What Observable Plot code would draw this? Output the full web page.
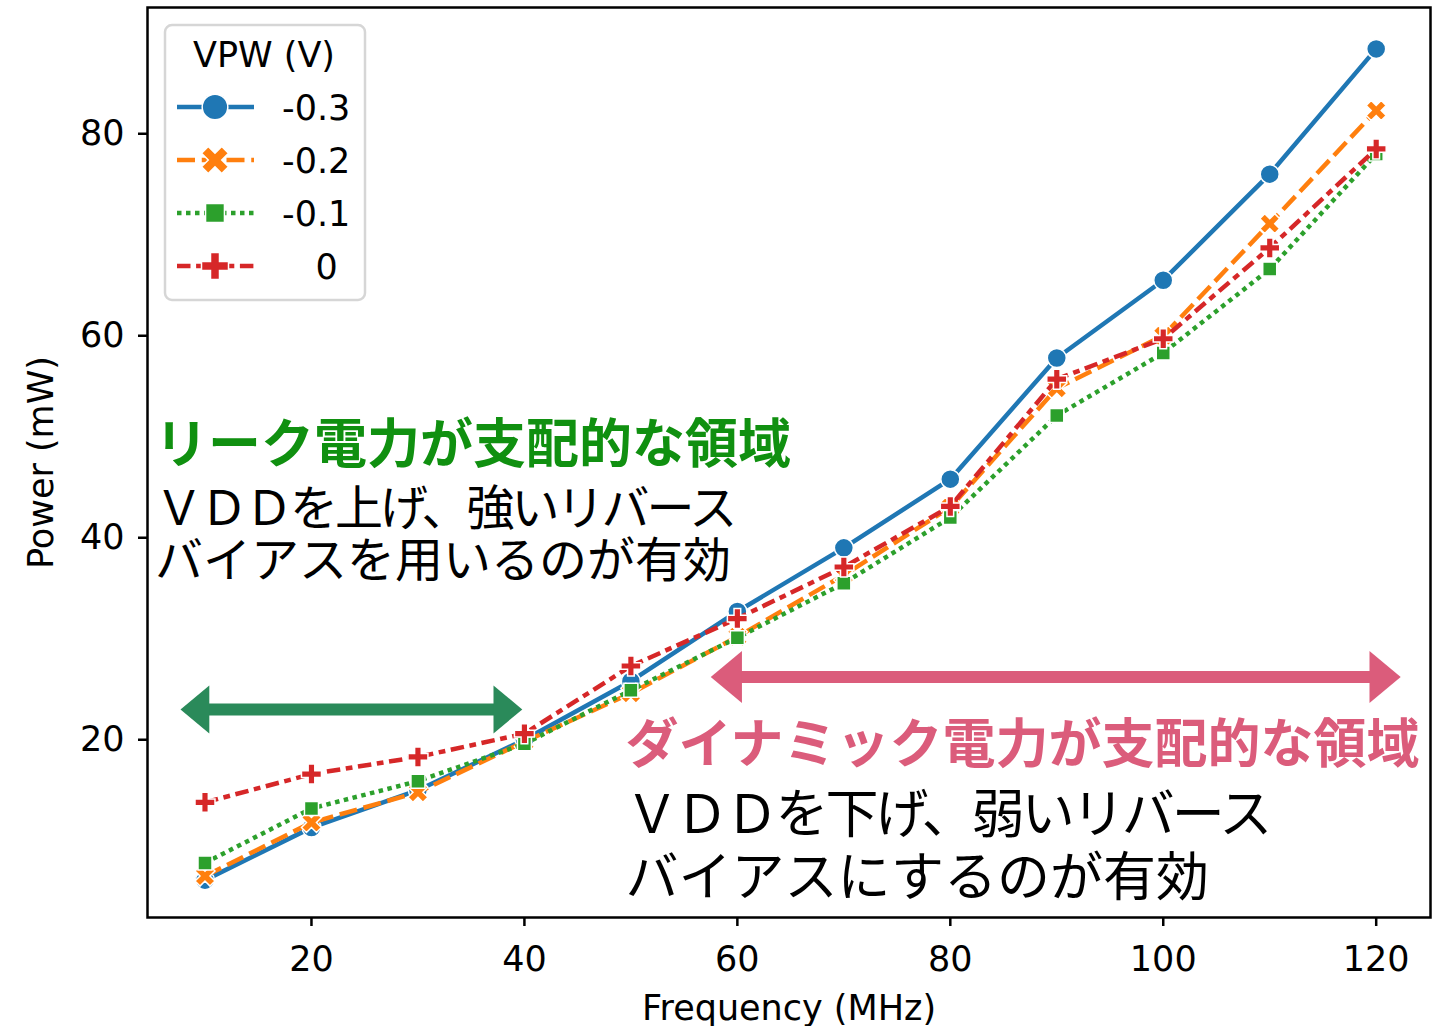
<!DOCTYPE html>
<html><head><meta charset="utf-8">
<script src="https://cdn.jsdelivr.net/npm/d3@7"></script>
<script src="https://cdn.jsdelivr.net/npm/@observablehq/plot@0.6"></script>
<style>
body{margin:0;background:#fff;}
#wrap{position:relative;width:1433px;height:1026px;}
#legend{position:absolute;left:0;top:0;}
</style></head><body><div id="wrap"></div>
<script>
// ---------- data ----------
const freq = [10, 20, 30, 40, 50, 60, 70, 80, 90, 100, 110, 120];
const vpwLabels = ["-0.3", "-0.2", "-0.1", "0"];
const legendLabels = ["-0.3", "-0.2", "-0.1", "   0"];
const powerM03 = [6.1, 11.3, 15.0, 20.0, 25.8, 32.7, 39.0, 45.8, 57.8, 65.5, 76.0, 88.4];
const powerM02 = [6.5, 11.8, 14.8, 19.8, 24.6, 30.2, 36.3, 43.0, 54.8, 60.0, 71.1, 82.3];
const powerM01 = [7.8, 13.2, 15.9, 19.6, 24.9, 30.1, 35.5, 42.0, 52.1, 58.3, 66.6, 78.0];
const power00  = [13.8, 16.6, 18.3, 20.6, 27.3, 32.0, 37.1, 43.1, 55.7, 59.7, 68.7, 78.5];
const xTicks = [20, 40, 60, 80, 100, 120];
const yTicks = [20, 40, 60, 80];
const legendTitle = "VPW (V)";
const xLabel = "Frequency (MHz)";
const yLabel = "Power (mW)";
// annotations (data-space anchors)
const headTexts = ["リーク電力が支配的な領域", "ダイナミック電力が支配的な領域"];
const headX = [5.3, 49.5];
const headY = [49.1, 19.4];
const bodyLines = [["ＶＤＤを上げ、強いリバース", "バイアスを用いるのが有効"],
                   ["ＶＤＤを下げ、弱いリバース", "バイアスにするのが有効"]];
const bodyX = [5.3, 49.5];
const bodyY = [40.3, 9.65];
const arrowX1 = [7.7, 57.5];
const arrowX2 = [39.8, 122.3];
const arrowY = [23.0, 26.2];

// ---------- styles ----------
const colors = ["#1f77b4", "#ff7f0e", "#2ca02c", "#d62728"];
const lw = 4.5;
const dashes = [null, "18,6.75", "4.5,4.5", "13.5,5.6,6.75,5.6"];
const green = "#109010", pink = "#db5c7b", arrowGreen = "#2a8a5a";
const headFill = [green, pink];
const bodySize = [48, 53];
const bodyLineHeight = [1.083, 1.19];
const arrowColors = [arrowGreen, pink];
const arrowR = [9.6, 10.4];

function polySymbol(pts) {
  return {draw(ctx, size) {
    const r = Math.sqrt(size / Math.PI);
    ctx.moveTo(pts[0][0] * r, pts[0][1] * r);
    for (let i = 1; i < pts.length; i++) ctx.lineTo(pts[i][0] * r, pts[i][1] * r);
    ctx.closePath();
  }};
}
const t = 1 / 3;
const plusPts = [[-t,-1],[t,-1],[t,-t],[1,-t],[1,t],[t,t],[t,1],[-t,1],[-t,t],[-1,t],[-1,-t],[-t,-t]];
const xPts = plusPts.map(([a, b]) => [(a - b) / Math.SQRT2, (a + b) / Math.SQRT2]);
const plusSym = polySymbol(plusPts);
const xSym = polySymbol(xPts);
const headSym = polySymbol([[0, 0], [-3, -2.5], [-3, 2.5]]);
const symbols = ["circle", xSym, "square", plusSym];
const radii = [9.5, 10.6, 7.9, 10];
const legendScale = 1.35;

const values = [powerM03, powerM02, powerM01, power00];
const series = vpwLabels.map((v, i) => freq.map((f, j) => ({f, p: values[i][j], v})));

const marks = [];
marks.push(Plot.frame({stroke: "black", strokeWidth: 2.5}));
arrowX1.forEach((_, i) => {
  const d = [{x1: arrowX1[i], x2: arrowX2[i], y: arrowY[i]}];
  marks.push(Plot.arrow(d, {x1: "x1", x2: "x2", y1: "y", y2: "y", headLength: 0, insetStart: 20, insetEnd: 20,
    stroke: arrowColors[i], strokeWidth: 12, strokeLinecap: "butt"}));
  marks.push(Plot.dot(d, {x: "x2", y: "y", symbol: headSym, r: arrowR[i], fill: arrowColors[i], stroke: "none"}));
  marks.push(Plot.dot(d, {x: "x1", y: "y", symbol: headSym, r: arrowR[i], rotate: 180, fill: arrowColors[i], stroke: "none"}));
});
series.forEach((d, i) => {
  marks.push(Plot.line(d, {x: "f", y: "p", stroke: colors[i], strokeWidth: lw, strokeDasharray: dashes[i] ?? undefined, strokeLinecap: "butt", strokeLinejoin: "round"}));
  marks.push(Plot.dot(d, {x: "f", y: "p", symbol: symbols[i], r: radii[i], fill: colors[i], stroke: "white", strokeWidth: 1.5}));
});
headTexts.forEach((s, i) => {
  marks.push(Plot.text([s], {x: () => headX[i], y: () => headY[i], text: d => d, textAnchor: "start", lineAnchor: "middle",
    fontSize: 53, fontWeight: "bold", fill: headFill[i], fontFamily: "Noto Sans CJK JP"}));
});
bodyLines.forEach((lines, i) => {
  marks.push(Plot.text([lines.join("\n")], {x: () => bodyX[i], y: () => bodyY[i], text: d => d, textAnchor: "start", lineAnchor: "middle",
    lineHeight: bodyLineHeight[i], fontSize: bodySize[i], fill: "black", fontFamily: "Noto Sans CJK JP"}));
});
marks.push(Plot.axisX({ticks: xTicks, tickSize: 9, tickPadding: 20, strokeWidth: 2.5, label: xLabel, labelAnchor: "center", labelArrow: "none", labelOffset: 102}));
marks.push(Plot.axisY({ticks: yTicks, tickSize: 9, tickPadding: 14, strokeWidth: 2.5, label: yLabel, labelAnchor: "center", labelArrow: "none", labelOffset: 119}));

const chart = Plot.plot({
  width: 1433, height: 1026,
  marginLeft: 147, marginRight: 3, marginTop: 7, marginBottom: 109,
  x: {domain: [4.6, 125.1]},
  y: {domain: [2.4, 92.5]},
  style: {fontFamily: "DejaVu Sans", fontSize: "35px", color: "black", background: "white"},
  marks
});
const wrap = document.getElementById("wrap");
wrap.appendChild(chart);
// tighten the lines that start with full-width letters
const tightLines = new Set(bodyLines.map(l => l[0]));
d3.select(chart).selectAll("tspan").each(function() {
  if (tightLines.has(this.textContent)) this.style.letterSpacing = "-3px";
});

// ---------- legend overlay ----------
const leg = d3.select(wrap).append("svg").attr("id", "legend").attr("width", 1433).attr("height", 1026)
  .style("font-family", "DejaVu Sans").style("font-size", "35px");
leg.append("rect").attr("x", 165).attr("y", 25).attr("width", 200).attr("height", 275).attr("rx", 7)
  .attr("fill", "white").attr("fill-opacity", 0.8).attr("stroke", "#d6d6d6").attr("stroke-width", 2.5);
leg.append("text").attr("x", 264).attr("y", 67).attr("text-anchor", "middle").text(legendTitle);
const rowY = [107, 160, 213, 266];
vpwLabels.forEach((v, i) => {
  const y = rowY[i];
  const ln = leg.append("line").attr("x1", 177).attr("x2", 254).attr("y1", y).attr("y2", y)
    .attr("stroke", colors[i]).attr("stroke-width", lw);
  if (dashes[i]) ln.attr("stroke-dasharray", dashes[i]);
  const sym = typeof symbols[i] === "string" ? (symbols[i] === "circle" ? d3.symbolCircle : d3.symbolSquare) : symbols[i];
  const rr = radii[i] * legendScale;
  leg.append("path").attr("d", d3.symbol(sym, rr * rr * Math.PI)())
    .attr("transform", `translate(215,${y})`).attr("fill", colors[i]).attr("stroke", "white").attr("stroke-width", 1.5);
  leg.append("text").attr("x", 282).attr("y", y).attr("dy", "0.36em").style("white-space", "pre").text(legendLabels[i]);
});
</script></body></html>
